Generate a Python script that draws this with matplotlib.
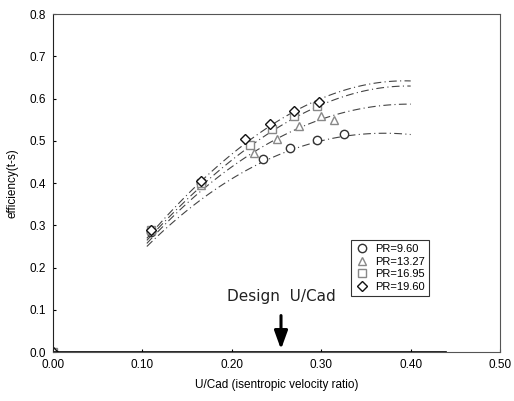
import matplotlib
matplotlib.use("Agg")
import matplotlib.pyplot as plt
import numpy as np

plt.rcParams['font.family'] = ['Liberation Sans', 'DejaVu Sans']

labels = ["PR=9.60", "PR=13.27", "PR=16.95", "PR=19.60"]
markers = ["o", "^", "s", "D"]

# measured points
x_pr960 = [0.0, 0.11, 0.165, 0.235, 0.265, 0.295, 0.325]
y_pr960 = [0.0, 0.285, 0.40, 0.457, 0.482, 0.502, 0.517]
x_pr1327 = [0.0, 0.11, 0.165, 0.225, 0.25, 0.275, 0.30, 0.314]
y_pr1327 = [0.0, 0.288, 0.395, 0.472, 0.505, 0.535, 0.558, 0.550]
x_pr1695 = [0.0, 0.11, 0.165, 0.22, 0.245, 0.27, 0.295]
y_pr1695 = [0.0, 0.29, 0.40, 0.49, 0.528, 0.558, 0.582]
x_pr1960 = [0.0, 0.11, 0.165, 0.215, 0.243, 0.270, 0.297]
y_pr1960 = [0.0, 0.29, 0.405, 0.505, 0.540, 0.571, 0.593]

# fitted trend curves
x_fit = [0.105, 0.15, 0.20, 0.25, 0.30, 0.35, 0.40]
fit_pr960 = [0.25, 0.335, 0.41, 0.465, 0.50, 0.516, 0.515]
fit_pr1327 = [0.258, 0.35, 0.44, 0.505, 0.55, 0.578, 0.587]
fit_pr1695 = [0.265, 0.36, 0.455, 0.53, 0.585, 0.618, 0.630]
fit_pr1960 = [0.27, 0.37, 0.47, 0.545, 0.60, 0.632, 0.642]

xs = [x_pr960, x_pr1327, x_pr1695, x_pr1960]
ys = [y_pr960, y_pr1327, y_pr1695, y_pr1960]
fits = [fit_pr960, fit_pr1327, fit_pr1695, fit_pr1960]
colors = ["#333333", "#888888", "#888888", "#111111"]

design_x = 0.255

fig = plt.figure(figsize=(5.14, 4.01), dpi=100)
ax = fig.add_axes([0.103, 0.122, 0.870, 0.843])

for f in fits:
    xx = np.linspace(x_fit[0], x_fit[-1], 100)
    coef = np.polyfit(x_fit, f, 3)
    ax.plot(xx, np.polyval(coef, xx), color="#444444", lw=0.8, ls=(0, (7, 3, 1, 3)))

for x, y, m, lab, c in zip(xs, ys, markers, labels, colors):
    ax.plot(x, y, ls="none", marker=m, ms=6 if m != "D" else 5, mfc="white", mec=c, mew=1.0, label=lab)

ax.plot([0, 0.44], [0, 0], color="black", lw=1.2)

ax.annotate("", xy=(design_x, 0.0), xytext=(design_x, 0.093),
            arrowprops=dict(arrowstyle="-|>,head_width=0.4,head_length=1.1", color="black", lw=2.2))
ax.text(design_x, 0.113, "Design  U/Cad", ha="center", va="bottom", fontsize=11, color="#222222",
        family=["DejaVu Sans"])

ax.set_xlim(0, 0.5)
ax.set_ylim(0, 0.8)
ax.set_xticks([0, 0.1, 0.2, 0.3, 0.4, 0.5])
ax.set_xticklabels(["0.00", "0.10", "0.20", "0.30", "0.40", "0.50"])
ax.set_yticks(np.arange(0, 0.81, 0.1))
ax.set_yticklabels([f"{v:.1f}" for v in np.arange(0, 0.81, 0.1)])
ax.tick_params(direction="in", length=2, labelsize=8.5, pad=5)
for s in ax.spines.values():
    s.set_linestyle((0, (1, 1)))
    s.set_linewidth(0.8)
    s.set_color("#555555")
ax.spines["left"].set_linestyle("-")
ax.spines["left"].set_color("#222222")

ax.set_xlabel("U/Cad (isentropic velocity ratio)", fontsize=8.5, labelpad=6)
ax.set_ylabel("efficiency(t-s)", fontsize=8.5, labelpad=8)

leg = ax.legend(loc="lower right", bbox_to_anchor=(0.84, 0.166), fontsize=8, frameon=True,
                fancybox=False, edgecolor="black", borderpad=0.35, labelspacing=0.25,
                handletextpad=0.6, handlelength=1.2, borderaxespad=0)
leg.get_frame().set_linewidth(0.8)

fig.savefig("out.png", dpi=100, facecolor="white")
